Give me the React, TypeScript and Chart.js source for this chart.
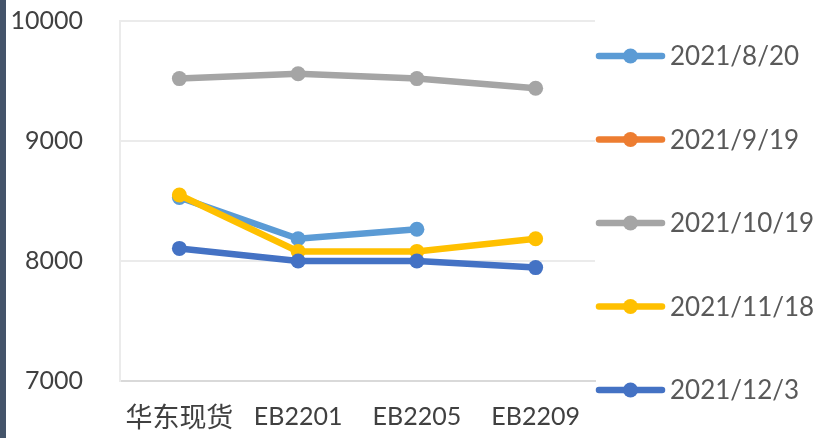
import React, { useEffect, useRef } from "react";
import { Chart, registerables } from "chart.js";

Chart.register(...registerables);

const categories = ["华东现货", "EB2201", "EB2205", "EB2209"];
const seriesNames = ["2021/8/20", "2021/9/19", "2021/10/19", "2021/11/18", "2021/12/3"];
const s0820 = [8530, 8185, 8265, null];
const s0919 = [null, null, null, null];
const s1019 = [9520, 9560, 9520, 9440];
const s1118 = [8550, 8080, 8080, 8185];
const s1203 = [8105, 8000, 8000, 7945];
const seriesColors = ["#5B9BD5", "#ED7D31", "#A5A5A5", "#FFC000", "#4472C4"];
const yMin = 7000;
const yMax = 10000;
const yStep = 1000;

const TEXT = "#595959";
const TICK_TEXT = "#404040";
const FONT = "Lato, 'Noto Sans CJK SC', sans-serif";

export default function App() {
  const ref = useRef<HTMLCanvasElement | null>(null);
  useEffect(() => {
    document.body.style.margin = "0";
    const values = [s0820, s0919, s1019, s1118, s1203];
    const legendPlugin = {
      id: "customLegend",
      afterDraw(chart: any) {
        const ctx = chart.ctx;
        const x0 = 599;
        const x1 = 662;
        const yStart = 56;
        const gap = 83.5;
        ctx.save();
        seriesNames.forEach((name, i) => {
          const y = yStart + i * gap;
          ctx.strokeStyle = seriesColors[i];
          ctx.lineWidth = 6.5;
          ctx.lineCap = "round";
          ctx.beginPath();
          ctx.moveTo(x0, y);
          ctx.lineTo(x1, y);
          ctx.stroke();
          ctx.fillStyle = seriesColors[i];
          ctx.beginPath();
          ctx.arc((x0 + x1) / 2, y, 7.5, 0, Math.PI * 2);
          ctx.fill();
          ctx.fillStyle = TEXT;
          ctx.font = "26px " + FONT;
          ctx.textAlign = "left";
          ctx.textBaseline = "middle";
          ctx.fillText(name, 670, y + 1);
        });
        ctx.restore();
      },
    };
    const chart = new Chart(ref.current!, {
      type: "line",
      data: {
        labels: categories,
        datasets: values.map((v, i) => ({
          label: seriesNames[i],
          data: v,
          borderColor: seriesColors[i],
          backgroundColor: seriesColors[i],
          pointBackgroundColor: seriesColors[i],
          pointBorderColor: seriesColors[i],
          borderWidth: 6.5,
          pointRadius: 7.5,
          pointBorderWidth: 0,
          pointHoverRadius: 7.5,
          spanGaps: false,
          tension: 0,
          order: 10 - i,
        })),
      },
      options: {
        animation: false,
        responsive: false,
        maintainAspectRatio: false,
        events: [],
        layout: { padding: { top: 21, right: 219, left: 0, bottom: 0 } },
        plugins: { legend: { display: false }, tooltip: { enabled: false } },
        scales: {
          x: {
            offset: true,
            grid: { display: false, drawTicks: false },
            border: { display: true, color: "#D9D9D9", width: 2 },
            ticks: {
              color: TICK_TEXT,
              padding: 21,
              font: (c: any) => ({ family: FONT, size: c.index === 0 ? 27 : 25 }),
            },
            afterFit(scale: any) {
              scale.height = 57;
              scale.paddingLeft = 0;
              scale.paddingRight = 0;
            },
          },
          y: {
            min: yMin,
            max: yMax,
            grid: {
              color: (c: any) => (c.tick && c.tick.value === yMin ? "#D9D9D9" : "#EBEBEB"),
              lineWidth: 2,
              drawTicks: false,
            },
            border: { display: true, color: "#EBEBEB", width: 2 },
            ticks: {
              stepSize: yStep,
              color: TICK_TEXT,
              padding: 37,
              font: { family: FONT, size: 25 },
              callback: (v: any) => String(v),
            },
            afterFit(scale: any) {
              scale.width = 120;
              scale.paddingTop = 0;
              scale.paddingBottom = 0;
            },
          },
        },
      },
      plugins: [legendPlugin],
    });
    return () => chart.destroy();
  }, []);
  return (
    <div style={{ position: "relative", width: 814, height: 438, background: "#fff" }}>
      <div style={{ position: "absolute", left: 0, top: 0, width: 6, height: 438, background: "#44546A" }} />
      <canvas ref={ref} width={814} height={438} style={{ display: "block" }} />
    </div>
  );
}
